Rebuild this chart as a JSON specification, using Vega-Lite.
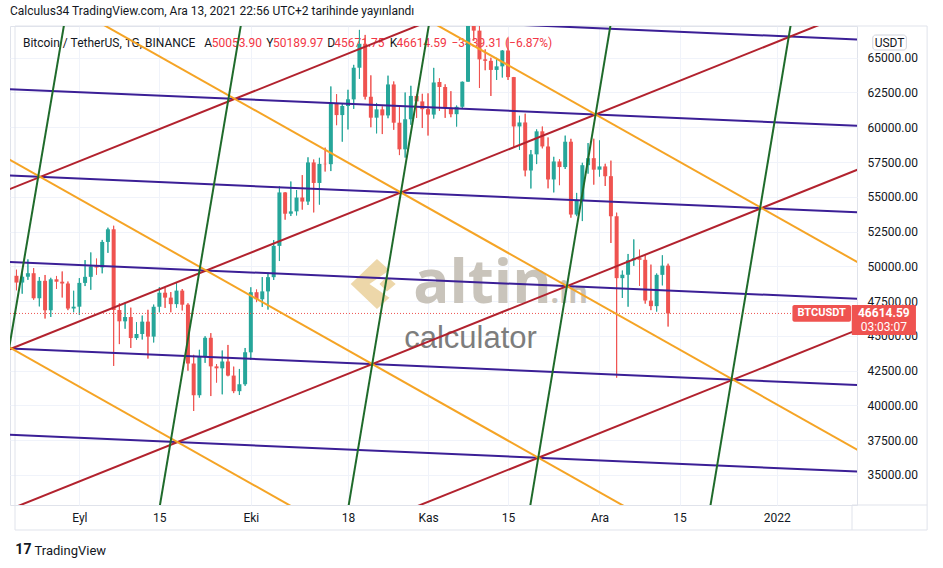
{
  "$schema": "https://vega.github.io/schema/vega-lite/v6.json",
  "width": 847,
  "height": 479,
  "autosize": {"type": "none"},
  "padding": {"left": 10, "top": 26, "right": 86, "bottom": 63},
  "background": "#ffffff",
  "title": {"text": "Calculus34 TradingView.com, Ara 13, 2021 22:56 UTC+2 tarihinde yayınlandı", "anchor": "start", "frame": "group", "offset": 8, "font": "Roboto", "fontSize": 12, "fontWeight": "normal", "color": "#131722"},
  "config": {
    "view": {"stroke": "#e0e3eb"},
    "font": "Roboto",
    "axis": {"labelFont": "Roboto", "labelFontSize": 12, "labelColor": "#131722", "gridColor": "#f0f3fa", "domain": false, "ticks": false, "tickSize": 0}
  },
  "datasets": {
    "candles": [
      {"d": "2021-08-21", "o": 49321, "h": 49757, "l": 48280, "c": 48835},
      {"d": "2021-08-22", "o": 48835, "h": 49500, "l": 48034, "c": 49255},
      {"d": "2021-08-23", "o": 49255, "h": 50500, "l": 49030, "c": 49507},
      {"d": "2021-08-24", "o": 49507, "h": 49875, "l": 47600, "c": 47707},
      {"d": "2021-08-25", "o": 47707, "h": 49229, "l": 47122, "c": 48960},
      {"d": "2021-08-26", "o": 48960, "h": 49380, "l": 46250, "c": 46843},
      {"d": "2021-08-27", "o": 46843, "h": 49178, "l": 46360, "c": 49069},
      {"d": "2021-08-28", "o": 49069, "h": 49309, "l": 48371, "c": 48896},
      {"d": "2021-08-29", "o": 48896, "h": 49632, "l": 47762, "c": 48767},
      {"d": "2021-08-30", "o": 48767, "h": 48909, "l": 46853, "c": 46970},
      {"d": "2021-08-31", "o": 46970, "h": 48246, "l": 46700, "c": 47100},
      {"d": "2021-09-01", "o": 47100, "h": 49156, "l": 46512, "c": 48811},
      {"d": "2021-09-02", "o": 48810, "h": 50450, "l": 48584, "c": 49246},
      {"d": "2021-09-03", "o": 49246, "h": 51000, "l": 48316, "c": 49999},
      {"d": "2021-09-04", "o": 49999, "h": 50558, "l": 49400, "c": 49915},
      {"d": "2021-09-05", "o": 49918, "h": 51900, "l": 49500, "c": 51756},
      {"d": "2021-09-06", "o": 51756, "h": 52780, "l": 50969, "c": 52663},
      {"d": "2021-09-07", "o": 52666, "h": 52920, "l": 42843, "c": 46863},
      {"d": "2021-09-08", "o": 46863, "h": 47340, "l": 44412, "c": 46049},
      {"d": "2021-09-09", "o": 46048, "h": 47399, "l": 45514, "c": 46357},
      {"d": "2021-09-10", "o": 46357, "h": 47031, "l": 44132, "c": 44845},
      {"d": "2021-09-11", "o": 44843, "h": 45987, "l": 44722, "c": 45135},
      {"d": "2021-09-12", "o": 45135, "h": 46460, "l": 44742, "c": 46025},
      {"d": "2021-09-13", "o": 46026, "h": 46876, "l": 43370, "c": 44947},
      {"d": "2021-09-14", "o": 44949, "h": 47250, "l": 44529, "c": 47095},
      {"d": "2021-09-15", "o": 47095, "h": 48500, "l": 46700, "c": 48105},
      {"d": "2021-09-16", "o": 48105, "h": 48463, "l": 47014, "c": 47753},
      {"d": "2021-09-17", "o": 47753, "h": 48150, "l": 46700, "c": 47283},
      {"d": "2021-09-18", "o": 47283, "h": 48843, "l": 47033, "c": 48256},
      {"d": "2021-09-19", "o": 48256, "h": 48372, "l": 46830, "c": 47245},
      {"d": "2021-09-20", "o": 47245, "h": 47347, "l": 42500, "c": 43015},
      {"d": "2021-09-21", "o": 43016, "h": 43639, "l": 39600, "c": 40734},
      {"d": "2021-09-22", "o": 40734, "h": 44000, "l": 40565, "c": 43543},
      {"d": "2021-09-23", "o": 43546, "h": 44978, "l": 43063, "c": 44865},
      {"d": "2021-09-24", "o": 44866, "h": 45200, "l": 40675, "c": 42810},
      {"d": "2021-09-25", "o": 42810, "h": 42971, "l": 41646, "c": 42670},
      {"d": "2021-09-26", "o": 42670, "h": 43950, "l": 40800, "c": 43160},
      {"d": "2021-09-27", "o": 43161, "h": 44350, "l": 42098, "c": 42147},
      {"d": "2021-09-28", "o": 42147, "h": 42790, "l": 40888, "c": 41026},
      {"d": "2021-09-29", "o": 41026, "h": 42623, "l": 40753, "c": 41524},
      {"d": "2021-09-30", "o": 41524, "h": 44132, "l": 41410, "c": 43825},
      {"d": "2021-10-01", "o": 43820, "h": 48495, "l": 43283, "c": 48141},
      {"d": "2021-10-02", "o": 48141, "h": 48336, "l": 47430, "c": 47634},
      {"d": "2021-10-03", "o": 47634, "h": 49228, "l": 47088, "c": 48201},
      {"d": "2021-10-04", "o": 48200, "h": 49536, "l": 46891, "c": 49225},
      {"d": "2021-10-05", "o": 49224, "h": 51886, "l": 49022, "c": 51471},
      {"d": "2021-10-06", "o": 51471, "h": 55750, "l": 50382, "c": 55315},
      {"d": "2021-10-07", "o": 55315, "h": 55338, "l": 53357, "c": 53785},
      {"d": "2021-10-08", "o": 53785, "h": 56100, "l": 53617, "c": 53951},
      {"d": "2021-10-09", "o": 53955, "h": 55489, "l": 53661, "c": 54949},
      {"d": "2021-10-10", "o": 54949, "h": 56561, "l": 54080, "c": 54659},
      {"d": "2021-10-11", "o": 54659, "h": 57839, "l": 54415, "c": 57471},
      {"d": "2021-10-12", "o": 57471, "h": 57680, "l": 53879, "c": 55996},
      {"d": "2021-10-13", "o": 55996, "h": 57804, "l": 54440, "c": 57367},
      {"d": "2021-10-14", "o": 57370, "h": 58532, "l": 56818, "c": 57347},
      {"d": "2021-10-15", "o": 57347, "h": 62933, "l": 56850, "c": 61672},
      {"d": "2021-10-16", "o": 61672, "h": 62378, "l": 60150, "c": 60875},
      {"d": "2021-10-17", "o": 60876, "h": 61700, "l": 58963, "c": 61528},
      {"d": "2021-10-18", "o": 61529, "h": 62695, "l": 59844, "c": 62010},
      {"d": "2021-10-19", "o": 62005, "h": 64486, "l": 61322, "c": 64280},
      {"d": "2021-10-20", "o": 64280, "h": 67000, "l": 63482, "c": 66001},
      {"d": "2021-10-21", "o": 66002, "h": 66639, "l": 62000, "c": 62193},
      {"d": "2021-10-22", "o": 62193, "h": 63732, "l": 60000, "c": 60688},
      {"d": "2021-10-23", "o": 60689, "h": 61747, "l": 59562, "c": 61286},
      {"d": "2021-10-24", "o": 61286, "h": 61500, "l": 59510, "c": 60852},
      {"d": "2021-10-25", "o": 60852, "h": 63710, "l": 60650, "c": 63078},
      {"d": "2021-10-26", "o": 63078, "h": 63293, "l": 59817, "c": 60328},
      {"d": "2021-10-27", "o": 60328, "h": 61496, "l": 58000, "c": 58413},
      {"d": "2021-10-28", "o": 58413, "h": 62499, "l": 57820, "c": 60575},
      {"d": "2021-10-29", "o": 60575, "h": 62980, "l": 60174, "c": 62253},
      {"d": "2021-10-30", "o": 62253, "h": 62359, "l": 60673, "c": 61859},
      {"d": "2021-10-31", "o": 61859, "h": 62405, "l": 59945, "c": 61300},
      {"d": "2021-11-01", "o": 61300, "h": 62437, "l": 59405, "c": 60911},
      {"d": "2021-11-02", "o": 60911, "h": 64270, "l": 60624, "c": 63219},
      {"d": "2021-11-03", "o": 63254, "h": 63516, "l": 61184, "c": 62896},
      {"d": "2021-11-04", "o": 62896, "h": 63086, "l": 60677, "c": 61395},
      {"d": "2021-11-05", "o": 61396, "h": 62595, "l": 60721, "c": 60937},
      {"d": "2021-11-06", "o": 60941, "h": 61560, "l": 60050, "c": 61470},
      {"d": "2021-11-07", "o": 61471, "h": 63286, "l": 61322, "c": 63273},
      {"d": "2021-11-08", "o": 63273, "h": 67789, "l": 63273, "c": 67525},
      {"d": "2021-11-09", "o": 67525, "h": 68524, "l": 66222, "c": 66947},
      {"d": "2021-11-10", "o": 66947, "h": 69000, "l": 62822, "c": 64882},
      {"d": "2021-11-11", "o": 64883, "h": 65600, "l": 64100, "c": 64774},
      {"d": "2021-11-12", "o": 64775, "h": 65000, "l": 62250, "c": 64122},
      {"d": "2021-11-13", "o": 64122, "h": 64990, "l": 63400, "c": 64380},
      {"d": "2021-11-14", "o": 64380, "h": 65550, "l": 63577, "c": 65519},
      {"d": "2021-11-15", "o": 65520, "h": 66401, "l": 63400, "c": 63607},
      {"d": "2021-11-16", "o": 63607, "h": 63617, "l": 58574, "c": 60059},
      {"d": "2021-11-17", "o": 60059, "h": 60823, "l": 58373, "c": 60344},
      {"d": "2021-11-18", "o": 60345, "h": 60977, "l": 56474, "c": 56892},
      {"d": "2021-11-19", "o": 56891, "h": 58366, "l": 55600, "c": 58052},
      {"d": "2021-11-20", "o": 58053, "h": 59845, "l": 57354, "c": 59707},
      {"d": "2021-11-21", "o": 59707, "h": 60051, "l": 58485, "c": 58622},
      {"d": "2021-11-22", "o": 58618, "h": 59266, "l": 55610, "c": 56247},
      {"d": "2021-11-23", "o": 56247, "h": 57875, "l": 55317, "c": 57541},
      {"d": "2021-11-24", "o": 57541, "h": 57700, "l": 55837, "c": 57138},
      {"d": "2021-11-25", "o": 57139, "h": 59398, "l": 57000, "c": 58960},
      {"d": "2021-11-26", "o": 58960, "h": 59170, "l": 53500, "c": 53726},
      {"d": "2021-11-27", "o": 53723, "h": 55280, "l": 53611, "c": 54721},
      {"d": "2021-11-28", "o": 54716, "h": 57445, "l": 53256, "c": 57274},
      {"d": "2021-11-29", "o": 57274, "h": 58865, "l": 56666, "c": 57776},
      {"d": "2021-11-30", "o": 57777, "h": 59176, "l": 55875, "c": 56950},
      {"d": "2021-12-01", "o": 56951, "h": 59053, "l": 56458, "c": 57184},
      {"d": "2021-12-02", "o": 57185, "h": 57376, "l": 55777, "c": 56480},
      {"d": "2021-12-03", "o": 56484, "h": 57600, "l": 51680, "c": 53602},
      {"d": "2021-12-04", "o": 53602, "h": 53859, "l": 42000, "c": 49152},
      {"d": "2021-12-05", "o": 49152, "h": 49699, "l": 47727, "c": 49397},
      {"d": "2021-12-06", "o": 49397, "h": 50891, "l": 47100, "c": 50441},
      {"d": "2021-12-07", "o": 50441, "h": 51936, "l": 50039, "c": 50589},
      {"d": "2021-12-08", "o": 50589, "h": 51200, "l": 48600, "c": 50471},
      {"d": "2021-12-09", "o": 50471, "h": 50797, "l": 47320, "c": 47545},
      {"d": "2021-12-10", "o": 47535, "h": 50125, "l": 46852, "c": 47140},
      {"d": "2021-12-11", "o": 47140, "h": 49485, "l": 46751, "c": 49389},
      {"d": "2021-12-12", "o": 49389, "h": 50797, "l": 48633, "c": 50053},
      {"d": "2021-12-13", "o": 50053.9, "h": 50189.97, "l": 45671.75, "c": 46614.59}
    ],
    "lines": [
      {"g": "P0", "f": "P", "t": "2021-08-19T00:00:00Z", "p": 68965.5},
      {"g": "P0", "f": "P", "t": "2022-01-17T00:00:00Z", "p": 66281.8},
      {"g": "P1", "f": "P", "t": "2021-08-19T00:00:00Z", "p": 62752.7},
      {"g": "P1", "f": "P", "t": "2022-01-17T00:00:00Z", "p": 60069.0},
      {"g": "P2", "f": "P", "t": "2021-08-19T00:00:00Z", "p": 56539.9},
      {"g": "P2", "f": "P", "t": "2022-01-17T00:00:00Z", "p": 53856.1},
      {"g": "P3", "f": "P", "t": "2021-08-19T00:00:00Z", "p": 50327.0},
      {"g": "P3", "f": "P", "t": "2022-01-17T00:00:00Z", "p": 47643.3},
      {"g": "P4", "f": "P", "t": "2021-08-19T00:00:00Z", "p": 44114.1},
      {"g": "P4", "f": "P", "t": "2022-01-17T00:00:00Z", "p": 41430.4},
      {"g": "P5", "f": "P", "t": "2021-08-19T00:00:00Z", "p": 37901.4},
      {"g": "P5", "f": "P", "t": "2022-01-17T00:00:00Z", "p": 35217.7},
      {"g": "R0", "f": "R", "t": "2021-08-19T00:00:00Z", "p": 55418.4},
      {"g": "R0", "f": "R", "t": "2022-01-17T00:00:00Z", "p": 80279.0},
      {"g": "R1", "f": "R", "t": "2021-08-19T00:00:00Z", "p": 43907.2},
      {"g": "R1", "f": "R", "t": "2022-01-17T00:00:00Z", "p": 68767.8},
      {"g": "R2", "f": "R", "t": "2021-08-19T00:00:00Z", "p": 32396.1},
      {"g": "R2", "f": "R", "t": "2022-01-17T00:00:00Z", "p": 57256.6},
      {"g": "R3", "f": "R", "t": "2021-08-19T00:00:00Z", "p": 20885.0},
      {"g": "R3", "f": "R", "t": "2022-01-17T00:00:00Z", "p": 45745.4},
      {"g": "O0", "f": "O", "t": "2021-08-19T00:00:00Z", "p": 44357.0},
      {"g": "O0", "f": "O", "t": "2022-01-17T00:00:00Z", "p": 9375.1},
      {"g": "O1", "f": "O", "t": "2021-08-19T00:00:00Z", "p": 57855.6},
      {"g": "O1", "f": "O", "t": "2022-01-17T00:00:00Z", "p": 22873.3},
      {"g": "O2", "f": "O", "t": "2021-08-19T00:00:00Z", "p": 71353.7},
      {"g": "O2", "f": "O", "t": "2022-01-17T00:00:00Z", "p": 36371.6},
      {"g": "O3", "f": "O", "t": "2021-08-19T00:00:00Z", "p": 84852.1},
      {"g": "O3", "f": "O", "t": "2022-01-17T00:00:00Z", "p": 49869.7},
      {"g": "G1", "f": "G", "t": "2021-08-30T01:23:00Z", "p": 69148.1},
      {"g": "G1", "f": "G", "t": "2021-08-14T07:05:00Z", "p": 31045.9},
      {"g": "G2", "f": "G", "t": "2021-09-30T00:01:00Z", "p": 69148.1},
      {"g": "G2", "f": "G", "t": "2021-09-14T08:46:00Z", "p": 31045.9},
      {"g": "G3", "f": "G", "t": "2021-11-01T21:09:00Z", "p": 69148.1},
      {"g": "G3", "f": "G", "t": "2021-10-17T09:29:00Z", "p": 31045.9},
      {"g": "G4", "f": "G", "t": "2021-12-03T15:52:00Z", "p": 69148.1},
      {"g": "G4", "f": "G", "t": "2021-11-18T04:12:00Z", "p": 31045.9},
      {"g": "G5", "f": "G", "t": "2022-01-04T04:24:00Z", "p": 69148.1},
      {"g": "G5", "f": "G", "t": "2021-12-19T16:44:00Z", "p": 31045.9}
    ],
    "legendrow": [
      {"t": "Bitcoin / TetherUS, 1G, BINANCE", "k": "lbl", "at": "2021-08-22T02:58:00Z"},
      {"t": "A", "k": "lbl", "at": "2021-09-22T20:23:00Z"},
      {"t": "50053.90", "k": "val", "at": "2021-09-24T03:30:00Z"},
      {"t": "Y", "k": "lbl", "at": "2021-10-03T16:58:00Z"},
      {"t": "50189.97", "k": "val", "at": "2021-10-04T20:46:00Z"},
      {"t": "D", "k": "lbl", "at": "2021-10-14T08:59:00Z"},
      {"t": "45671.75", "k": "val", "at": "2021-10-15T14:01:00Z"},
      {"t": "K", "k": "lbl", "at": "2021-10-25T07:38:00Z"},
      {"t": "46614.59", "k": "val", "at": "2021-10-26T11:25:00Z"},
      {"t": "−3439.31 (−6.87%)", "k": "val", "at": "2021-11-05T02:34:00Z"}
    ]
  },
  "layer": [
    {
      "data": {"name": "candles"},
      "mark": {"type": "rule", "strokeWidth": 1, "clip": true},
      "encoding": {
        "x": {"field": "d", "type": "temporal", "scale": {"type": "utc", "domain": [{"year": 2021, "month": 8, "date": 20, "hours": 17, "minutes": 47, "utc": true}, {"year": 2022, "month": 1, "date": 14, "hours": 4, "minutes": 16, "utc": true}], "nice": false},
          "axis": {"orient": "bottom", "grid": true, "tickCount": 30, "values": [{"year": 2021, "month": 9, "date": 1, "utc": true}, {"year": 2021, "month": 9, "date": 15, "utc": true}, {"year": 2021, "month": 10, "date": 1, "utc": true}, {"year": 2021, "month": 10, "date": 18, "utc": true}, {"year": 2021, "month": 11, "date": 1, "utc": true}, {"year": 2021, "month": 11, "date": 15, "utc": true}, {"year": 2021, "month": 12, "date": 1, "utc": true}, {"year": 2021, "month": 12, "date": 15, "utc": true}, {"year": 2022, "month": 1, "date": 1, "utc": true}],
            "labelExpr": "utcdate(datum.value) == 1 ? (utcmonth(datum.value) == 0 ? '' + utcyear(datum.value) : ['Oca','Şub','Mar','Nis','May','Haz','Tem','Ağu','Eyl','Eki','Kas','Ara'][utcmonth(datum.value)]) : '' + utcdate(datum.value)",
            "labelPadding": 7, "labelFlush": false, "labelOverlap": false,
            "title": "TradingView", "titleX": 24, "titleY": 45, "titleAlign": "left", "titleBaseline": "middle", "titleAngle": 0, "titleFont": "Roboto", "titleFontSize": 13, "titleFontWeight": "normal", "titleColor": "#131722"}},
        "y": {"field": "l", "type": "quantitative", "scale": {"domain": [32843, 67280], "nice": false, "zero": false},
          "axis": {"orient": "right", "grid": true, "tickCount": 30, "values": [35000, 37500, 40000, 42500, 45000, 47500, 50000, 52500, 55000, 57500, 60000, 62500, 65000], "format": ".2f", "labelPadding": 10, "labelAlign": "left", "labelBaseline": "middle", "labelOverlap": false, "labelFlush": false, "title": null}},
        "y2": {"field": "h"},
        "color": {"condition": {"test": "datum.c >= datum.o", "value": "#26a69a"}, "value": "#ef5350"}
      }
    },
    {
      "data": {"values": [{}]},
      "mark": {"type": "rect", "fillOpacity": 0, "stroke": "#e0e3eb", "strokeWidth": 1, "clip": false},
      "encoding": {
        "x": {"datum": {"year": 2021, "month": 8, "date": 20, "hours": 17, "minutes": 47, "utc": true}, "type": "temporal", "scale": {"type": "utc", "domain": [{"year": 2021, "month": 8, "date": 20, "hours": 17, "minutes": 47, "utc": true}, {"year": 2022, "month": 1, "date": 14, "hours": 4, "minutes": 16, "utc": true}], "nice": false}},
        "x2": {"datum": {"year": 2022, "month": 1, "date": 27, "hours": 7, "minutes": 41, "utc": true}},
        "y": {"datum": 67280, "type": "quantitative", "scale": {"domain": [32843, 67280], "nice": false, "zero": false}},
        "y2": {"datum": 31046}
      }
    },
    {
      "data": {"values": [{}]},
      "mark": {"type": "rule", "color": "#e0e3eb", "strokeWidth": 1, "clip": false},
      "encoding": {
        "x": {"datum": {"year": 2022, "month": 1, "date": 14, "hours": 4, "minutes": 16, "utc": true}, "type": "temporal", "scale": {"type": "utc", "domain": [{"year": 2021, "month": 8, "date": 20, "hours": 17, "minutes": 47, "utc": true}, {"year": 2022, "month": 1, "date": 14, "hours": 4, "minutes": 16, "utc": true}], "nice": false}},
        "y": {"datum": 32843, "type": "quantitative", "scale": {"domain": [32843, 67280], "nice": false, "zero": false}},
        "y2": {"datum": 31046}
      }
    },
    {
      "data": {"values": [{}]},
      "mark": {"type": "rule", "color": "#e0e3eb", "strokeWidth": 1, "clip": false},
      "encoding": {
        "x": {"datum": {"year": 2022, "month": 1, "date": 14, "hours": 4, "minutes": 16, "utc": true}, "type": "temporal", "scale": {"type": "utc", "domain": [{"year": 2021, "month": 8, "date": 20, "hours": 17, "minutes": 47, "utc": true}, {"year": 2022, "month": 1, "date": 14, "hours": 4, "minutes": 16, "utc": true}], "nice": false}},
        "x2": {"datum": {"year": 2022, "month": 1, "date": 27, "hours": 7, "minutes": 41, "utc": true}},
        "y": {"datum": 32843, "type": "quantitative", "scale": {"domain": [32843, 67280], "nice": false, "zero": false}}
      }
    },
    {
      "data": {"values": [{}]},
      "mark": {"type": "point", "shape": "M0.05,-1L-1,0L0.05,1L0.55,0.55L-0.25,0L0.55,-0.55Z M0.45,-0.3L0.8,0L0.45,0.3L0.15,0Z", "filled": true, "color": "#ebd3a0", "opacity": 0.9, "size": 2500, "strokeWidth": 0, "clip": false},
      "encoding": {
        "x": {"datum": {"year": 2021, "month": 10, "date": 22, "hours": 20, "minutes": 18, "utc": true}, "type": "temporal", "scale": {"type": "utc", "domain": [{"year": 2021, "month": 8, "date": 20, "hours": 17, "minutes": 47, "utc": true}, {"year": 2022, "month": 1, "date": 14, "hours": 4, "minutes": 16, "utc": true}], "nice": false}},
        "y": {"datum": 48731, "type": "quantitative", "scale": {"domain": [32843, 67280], "nice": false, "zero": false}}
      }
    },
    {
      "data": {"values": [{}]},
      "mark": {"type": "text", "text": "altin", "font": "Open Sans", "fontWeight": "bold", "fontSize": 60, "color": "#c9c4bb", "align": "left", "baseline": "alphabetic", "clip": false},
      "encoding": {
        "x": {"datum": {"year": 2021, "month": 10, "date": 29, "hours": 9, "minutes": 59, "utc": true}, "type": "temporal", "scale": {"type": "utc", "domain": [{"year": 2021, "month": 8, "date": 20, "hours": 17, "minutes": 47, "utc": true}, {"year": 2022, "month": 1, "date": 14, "hours": 4, "minutes": 16, "utc": true}], "nice": false}},
        "y": {"datum": 47365, "type": "quantitative", "scale": {"domain": [32843, 67280], "nice": false, "zero": false}}
      }
    },
    {
      "data": {"values": [{}]},
      "mark": {"type": "text", "text": ".in", "font": "Open Sans", "fontWeight": "bold", "fontSize": 30, "color": "#c9c4bb", "align": "left", "baseline": "alphabetic", "clip": false},
      "encoding": {
        "x": {"datum": {"year": 2021, "month": 11, "date": 22, "hours": 10, "minutes": 44, "utc": true}, "type": "temporal", "scale": {"type": "utc", "domain": [{"year": 2021, "month": 8, "date": 20, "hours": 17, "minutes": 47, "utc": true}, {"year": 2022, "month": 1, "date": 14, "hours": 4, "minutes": 16, "utc": true}], "nice": false}},
        "y": {"datum": 47365, "type": "quantitative", "scale": {"domain": [32843, 67280], "nice": false, "zero": false}}
      }
    },
    {
      "data": {"values": [{}]},
      "mark": {"type": "text", "text": "calculator", "font": "Liberation Sans", "fontSize": 31, "color": "#7d7d7d", "align": "center", "baseline": "alphabetic", "clip": false},
      "encoding": {
        "x": {"datum": {"year": 2021, "month": 11, "date": 8, "hours": 10, "minutes": 38, "utc": true}, "type": "temporal", "scale": {"type": "utc", "domain": [{"year": 2021, "month": 8, "date": 20, "hours": 17, "minutes": 47, "utc": true}, {"year": 2022, "month": 1, "date": 14, "hours": 4, "minutes": 16, "utc": true}], "nice": false}},
        "y": {"datum": 44130, "type": "quantitative", "scale": {"domain": [32843, 67280], "nice": false, "zero": false}}
      }
    },
    {
      "data": {"name": "legendrow"},
      "mark": {"type": "text", "font": "Roboto", "fontSize": 12, "align": "left", "baseline": "middle", "clip": false},
      "encoding": {
        "x": {"field": "at", "type": "temporal", "scale": {"type": "utc", "domain": [{"year": 2021, "month": 8, "date": 20, "hours": 17, "minutes": 47, "utc": true}, {"year": 2022, "month": 1, "date": 14, "hours": 4, "minutes": 16, "utc": true}], "nice": false}},
        "y": {"datum": 66058, "type": "quantitative", "scale": {"domain": [32843, 67280], "nice": false, "zero": false}},
        "text": {"field": "t"},
        "color": {"condition": {"test": "datum.k == 'val'", "value": "#f23645"}, "value": "#131722"}
      }
    },
    {
      "data": {"name": "candles"},
      "mark": {"type": "rule", "strokeWidth": 1, "clip": true},
      "encoding": {
        "x": {"field": "d", "type": "temporal", "scale": {"type": "utc", "domain": [{"year": 2021, "month": 8, "date": 20, "hours": 17, "minutes": 47, "utc": true}, {"year": 2022, "month": 1, "date": 14, "hours": 4, "minutes": 16, "utc": true}], "nice": false}},
        "y": {"field": "l", "type": "quantitative", "scale": {"domain": [32843, 67280], "nice": false, "zero": false}},
        "y2": {"field": "h"},
        "color": {"condition": {"test": "datum.c >= datum.o", "value": "#26a69a"}, "value": "#ef5350"}
      }
    },
    {
      "data": {"name": "candles"},
      "mark": {"type": "bar", "size": 4, "clip": true},
      "encoding": {
        "x": {"field": "d", "type": "temporal", "scale": {"type": "utc", "domain": [{"year": 2021, "month": 8, "date": 20, "hours": 17, "minutes": 47, "utc": true}, {"year": 2022, "month": 1, "date": 14, "hours": 4, "minutes": 16, "utc": true}], "nice": false}},
        "y": {"field": "o", "type": "quantitative", "scale": {"domain": [32843, 67280], "nice": false, "zero": false}},
        "y2": {"field": "c"},
        "color": {"condition": {"test": "datum.c >= datum.o", "value": "#26a69a"}, "value": "#ef5350"}
      }
    },
    {
      "data": {"values": [{}]},
      "mark": {"type": "rule", "color": "#ef5350", "strokeWidth": 1, "strokeDash": [1, 2], "clip": true},
      "encoding": {
        "y": {"datum": 46614.59, "type": "quantitative", "scale": {"domain": [32843, 67280], "nice": false, "zero": false}}
      }
    },
    {
      "data": {"name": "lines"},
      "mark": {"type": "line", "strokeWidth": 2, "clip": true},
      "encoding": {
        "x": {"field": "t", "type": "temporal", "scale": {"type": "utc", "domain": [{"year": 2021, "month": 8, "date": 20, "hours": 17, "minutes": 47, "utc": true}, {"year": 2022, "month": 1, "date": 14, "hours": 4, "minutes": 16, "utc": true}], "nice": false}},
        "y": {"field": "p", "type": "quantitative", "scale": {"domain": [32843, 67280], "nice": false, "zero": false}},
        "detail": {"field": "g"},
        "color": {"field": "f", "type": "nominal", "scale": {"domain": ["P", "R", "O", "G"], "range": ["#3b1f96", "#b2222e", "#f5a425", "#1f6b2b"]}, "legend": null}
      }
    },
    {
      "data": {"values": [{}]},
      "mark": {"type": "rect", "color": "#ef5350", "cornerRadius": 2, "clip": false},
      "encoding": {
        "x": {"datum": {"year": 2022, "month": 1, "date": 3, "hours": 18, "minutes": 6, "utc": true}, "type": "temporal", "scale": {"type": "utc", "domain": [{"year": 2021, "month": 8, "date": 20, "hours": 17, "minutes": 47, "utc": true}, {"year": 2022, "month": 1, "date": 14, "hours": 4, "minutes": 16, "utc": true}], "nice": false}},
        "x2": {"datum": {"year": 2022, "month": 1, "date": 14, "hours": 0, "minutes": 9, "utc": true}},
        "y": {"datum": 47221, "type": "quantitative", "scale": {"domain": [32843, 67280], "nice": false, "zero": false}},
        "y2": {"datum": 46021}
      }
    },
    {
      "data": {"values": [{}]},
      "mark": {"type": "text", "text": "BTCUSDT", "font": "Roboto", "fontSize": 11, "fontWeight": "bold", "color": "#ffffff", "align": "center", "baseline": "middle", "clip": false},
      "encoding": {
        "x": {"datum": {"year": 2022, "month": 1, "date": 8, "hours": 20, "minutes": 53, "utc": true}, "type": "temporal", "scale": {"type": "utc", "domain": [{"year": 2021, "month": 8, "date": 20, "hours": 17, "minutes": 47, "utc": true}, {"year": 2022, "month": 1, "date": 14, "hours": 4, "minutes": 16, "utc": true}], "nice": false}},
        "y": {"datum": 46617, "type": "quantitative", "scale": {"domain": [32843, 67280], "nice": false, "zero": false}}
      }
    },
    {
      "data": {"values": [{}]},
      "mark": {"type": "rect", "color": "#ef5350", "cornerRadius": 1, "clip": false},
      "encoding": {
        "x": {"datum": {"year": 2022, "month": 1, "date": 14, "hours": 3, "minutes": 3, "utc": true}, "type": "temporal", "scale": {"type": "utc", "domain": [{"year": 2021, "month": 8, "date": 20, "hours": 17, "minutes": 47, "utc": true}, {"year": 2022, "month": 1, "date": 14, "hours": 4, "minutes": 16, "utc": true}], "nice": false}},
        "x2": {"datum": {"year": 2022, "month": 1, "date": 25, "hours": 8, "minutes": 46, "utc": true}},
        "y": {"datum": 47221, "type": "quantitative", "scale": {"domain": [32843, 67280], "nice": false, "zero": false}},
        "y2": {"datum": 45065}
      }
    },
    {
      "data": {"values": [{}]},
      "mark": {"type": "text", "text": "46614.59", "font": "Roboto", "fontSize": 12, "fontWeight": "bold", "color": "#ffffff", "align": "center", "baseline": "middle", "clip": false},
      "encoding": {
        "x": {"datum": {"year": 2022, "month": 1, "date": 19, "hours": 17, "minutes": 54, "utc": true}, "type": "temporal", "scale": {"type": "utc", "domain": [{"year": 2021, "month": 8, "date": 20, "hours": 17, "minutes": 47, "utc": true}, {"year": 2022, "month": 1, "date": 14, "hours": 4, "minutes": 16, "utc": true}], "nice": false}},
        "y": {"datum": 46640, "type": "quantitative", "scale": {"domain": [32843, 67280], "nice": false, "zero": false}}
      }
    },
    {
      "data": {"values": [{}]},
      "mark": {"type": "text", "text": "03:03:07", "font": "Roboto", "fontSize": 12, "color": "#ffffff", "align": "center", "baseline": "middle", "clip": false},
      "encoding": {
        "x": {"datum": {"year": 2022, "month": 1, "date": 19, "hours": 17, "minutes": 54, "utc": true}, "type": "temporal", "scale": {"type": "utc", "domain": [{"year": 2021, "month": 8, "date": 20, "hours": 17, "minutes": 47, "utc": true}, {"year": 2022, "month": 1, "date": 14, "hours": 4, "minutes": 16, "utc": true}], "nice": false}},
        "y": {"datum": 45660, "type": "quantitative", "scale": {"domain": [32843, 67280], "nice": false, "zero": false}}
      }
    },
    {
      "data": {"values": [{}]},
      "mark": {"type": "rect", "fill": "#ffffff", "stroke": "#d1d4dc", "strokeWidth": 1, "cornerRadius": 3, "clip": false},
      "encoding": {
        "x": {"datum": {"year": 2022, "month": 1, "date": 17, "hours": 19, "minutes": 26, "utc": true}, "type": "temporal", "scale": {"type": "utc", "domain": [{"year": 2021, "month": 8, "date": 20, "hours": 17, "minutes": 47, "utc": true}, {"year": 2022, "month": 1, "date": 14, "hours": 4, "minutes": 16, "utc": true}], "nice": false}},
        "x2": {"datum": {"year": 2022, "month": 1, "date": 23, "hours": 16, "minutes": 34, "utc": true}},
        "y": {"datum": 66632, "type": "quantitative", "scale": {"domain": [32843, 67280], "nice": false, "zero": false}},
        "y2": {"datum": 65553}
      }
    },
    {
      "data": {"values": [{}]},
      "mark": {"type": "text", "text": "USDT", "font": "Roboto", "fontSize": 12, "color": "#131722", "align": "center", "baseline": "middle", "clip": false},
      "encoding": {
        "x": {"datum": {"year": 2022, "month": 1, "date": 20, "hours": 18, "minutes": 0, "utc": true}, "type": "temporal", "scale": {"type": "utc", "domain": [{"year": 2021, "month": 8, "date": 20, "hours": 17, "minutes": 47, "utc": true}, {"year": 2022, "month": 1, "date": 14, "hours": 4, "minutes": 16, "utc": true}], "nice": false}},
        "y": {"datum": 66093, "type": "quantitative", "scale": {"domain": [32843, 67280], "nice": false, "zero": false}}
      }
    },
    {
      "data": {"values": [{}]},
      "mark": {"type": "text", "text": "17", "font": "Roboto", "fontSize": 14, "fontWeight": "bold", "color": "#131722", "align": "center", "baseline": "middle", "clip": false},
      "encoding": {
        "x": {"datum": {"year": 2021, "month": 8, "date": 22, "hours": 5, "minutes": 0, "utc": true}, "type": "temporal", "scale": {"type": "utc", "domain": [{"year": 2021, "month": 8, "date": 20, "hours": 17, "minutes": 47, "utc": true}, {"year": 2022, "month": 1, "date": 14, "hours": 4, "minutes": 16, "utc": true}], "nice": false}},
        "y": {"datum": 29608, "type": "quantitative", "scale": {"domain": [32843, 67280], "nice": false, "zero": false}}
      }
    }
  ]
}
